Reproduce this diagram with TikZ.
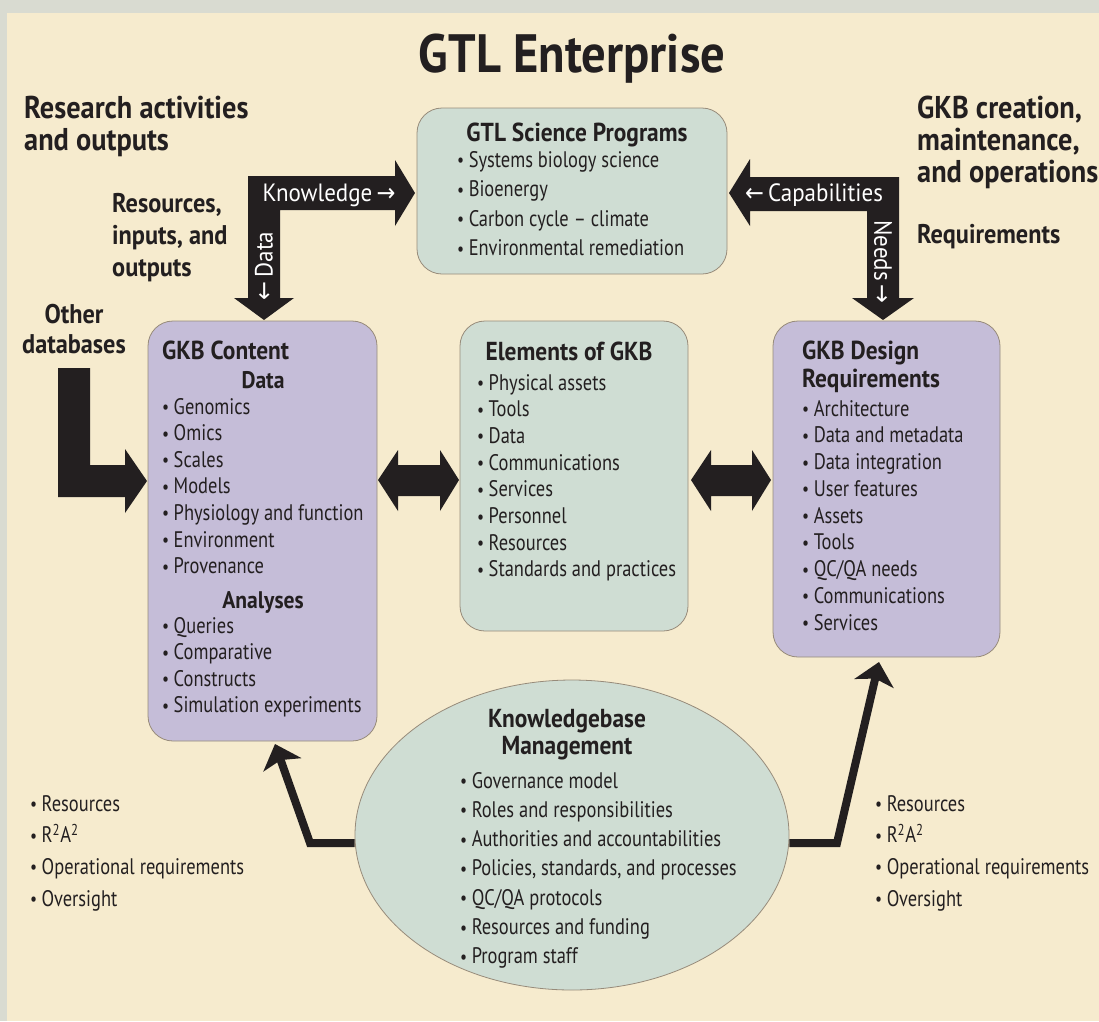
\documentclass[tikz,border=0pt]{standalone}
\usepackage{fontspec}
\setmainfont{PT Sans}[FakeStretch=0.82, BoldFeatures={FakeStretch=0.9}]
\newfontfamily\wfont{PT Sans}[FakeStretch=0.92]
\newfontfamily\arrowfont{DejaVu Sans}[FakeStretch=0.9]
\usetikzlibrary{arrows.meta,shapes.geometric}
\definecolor{bgcream}{HTML}{F6EBCE}
\definecolor{bggrey}{HTML}{D9DBD1}
\definecolor{boxteal}{HTML}{CFDDD3}
\definecolor{boxpurple}{HTML}{C5BDD8}
\definecolor{edgecol}{HTML}{978B7A}
\definecolor{ink}{HTML}{231F20}
\newcommand\bul{\raisebox{0.02em}{\fontsize{19}{19}\selectfont •}\hspace{0.2em}}
\newcommand\bulletrows[5]{%
  \foreach \t [count=\i from 0] in {#5} {
    \node[item] (#1\i) at (#2,{#3+\i*#4}) {\bul\t};
  }}
\begin{document}
\begin{tikzpicture}[x=1pt,y=-1pt,
  box/.style={draw=edgecol, line width=0.8pt, rounded corners=25pt, inner sep=0pt},
  item/.style={anchor=base west, inner sep=0pt, text=ink, font=\fontsize{22.5}{25}\selectfont},
  head/.style={anchor=base, inner sep=0pt, text=ink, font=\bfseries\fontsize{26}{30}\selectfont},
  sub/.style={anchor=base, inner sep=0pt, text=ink, font=\bfseries\fontsize{24}{28}\selectfont},
  big/.style={anchor=base west, inner sep=0pt, text=ink, font=\bfseries\fontsize{31.5}{34}\selectfont},
  mid/.style={anchor=base west, inner sep=0pt, text=ink, font=\bfseries\fontsize{27}{30}\selectfont},
  blk/.style={fill=ink},
  wtxt/.style={inner sep=0pt, text=white, font=\wfont\fontsize{25}{28}\selectfont},
  thin/.style={draw=ink, line width=8pt, -{Stealth[length=22pt,width=40pt,inset=5pt]}}
  ]
\fill[bggrey] (0,0) rectangle (1099,1021);
\fill[bgcream] (7,13) rectangle (1099,1021);
\useasboundingbox (0,0) rectangle (1099,1021);

% title
\node[anchor=base, inner sep=0pt, text=ink, font=\bfseries\fontsize{54}{58}\selectfont] (title) at (572,72) {GTL Enterprise};

% side headings
\node[big] (ra1) at (24,118) {Research activities};
\node[big] (ra2) at (24,150) {and outputs};
\node[big] (gc1) at (917,118) {GKB creation,};
\node[big] (gc2) at (917,150) {maintenance,};
\node[big] (gc3) at (917,182) {and operations};
\node[mid] (req) at (917,243) {Requirements};
\node[mid] (rio1) at (112,212) {Resources,};
\node[mid] (rio2) at (112,244) {inputs, and};
\node[mid] (rio3) at (112,276) {outputs};
\node[mid, anchor=base] (od1) at (74,323) {Other};
\node[mid, anchor=base] (od2) at (74,353) {databases};

% boxes
\node[box, fill=boxteal, minimum width=310pt, minimum height=166pt] (gtl) at (572,191) {};
\node[box, fill=boxpurple, minimum width=229pt, minimum height=420pt] (content) at (262.5,531) {};
\node[box, fill=boxteal, minimum width=228pt, minimum height=310pt] (elements) at (574,476) {};
\node[box, fill=boxpurple, minimum width=227pt, minimum height=336pt] (design) at (886.5,489) {};
\node[ellipse, draw=edgecol, line width=0.8pt, fill=boxteal, minimum width=434pt, minimum height=310pt, inner sep=0pt] (km) at (572,835) {};

% GTL Science Programs
\node[head] (gtlh) at (577,141) {GTL Science Programs};
\bulletrows{gtli}{457}{167}{29.5}{Systems biology science,Bioenergy,Carbon cycle – climate,Environmental remediation}

% GKB Content
\node[head, anchor=base west] (conth) at (162,359) {GKB Content};
\node[sub] (contd) at (263,388) {Data};
\bulletrows{contdi}{162}{414}{26.6}{Genomics,Omics,Scales,Models,Physiology and function,Environment,Provenance}
\node[sub] (conta) at (263,608) {Analyses};
\bulletrows{contai}{162}{633}{26.6}{Queries,Comparative,Constructs,Simulation experiments}

% Elements of GKB
\node[head] (elh) at (569,360) {Elements of GKB};
\bulletrows{eli}{477}{390}{26.7}{Physical assets,Tools,Data,Communications,Services,Personnel,Resources,Standards and practices}

% GKB Design Requirements
\node[head, anchor=base west] (desh1) at (802,359) {GKB Design};
\node[head, anchor=base west] (desh2) at (802,387) {Requirements};
\bulletrows{desi}{802}{416}{26.75}{Architecture,Data and metadata,Data integration,User features,Assets,Tools,QC/QA needs,Communications,Services}

% Knowledgebase Management
\node[head] (kmh1) at (567,727) {Knowledgebase};
\node[head] (kmh2) at (567,754) {Management};
\bulletrows{kmi}{460}{788}{29.3}{Governance model,Roles and responsibilities,Authorities and accountabilities,{Policies, standards, and processes},QC/QA protocols,Resources and funding,Program staff}

% bottom lists
\bulletrows{bl}{30}{811}{31.7}{Resources,R\textsuperscript{2}A\textsuperscript{2},Operational requirements,Oversight}
\bulletrows{br}{875}{811}{31.7}{Resources,R\textsuperscript{2}A\textsuperscript{2},Operational requirements,Oversight}

% block arrows
\fill[blk] (248,176) -- (395,176) -- (395,160) -- (415,193) -- (395,226) -- (395,210) -- (280,210) -- (280,298) -- (294,298) -- (264,320) -- (234,298) -- (248,298) -- cycle;
\node[wtxt, anchor=base] (know) at (329,201) {Knowledge\,{\arrowfont →}};
\node[wtxt, rotate=90] (data) at (264,266) {{\arrowfont ←}\,Data};

\fill[blk] (899,177) -- (750,177) -- (750,159) -- (729,193) -- (750,226) -- (750,211) -- (867,211) -- (867,298) -- (852,298) -- (883,320) -- (914,298) -- (899,298) -- cycle;
\node[wtxt, anchor=base] (capab) at (814,201) {{\arrowfont ←}\,Capabilities};
\node[wtxt, rotate=-90] (needs) at (883,262) {Needs\,{\arrowfont →}};

\fill[blk] (58,368) -- (90,368) -- (90,465) -- (125,465) -- (125,449) -- (147,481) -- (125,513) -- (125,497) -- (58,497) -- cycle;

\fill[blk] (378,480) -- (398,450) -- (398,465) -- (440,465) -- (440,450) -- (459,480) -- (440,511) -- (440,496) -- (398,496) -- (398,511) -- cycle;
\fill[blk] (691,480) -- (711,450) -- (711,465) -- (752,465) -- (752,450) -- (771,480) -- (752,511) -- (752,496) -- (711,496) -- (711,511) -- cycle;

% management arrows
\coordinate (tipL) at (275,744);
\coordinate (tipR) at (879,662);
\draw[thin] ([yshift=-8pt]km.west) -- (310,843) -- (tipL);
\draw[thin] ([yshift=-8pt]km.east) -- (837,843) -- (tipR);
\end{tikzpicture}
\end{document}
